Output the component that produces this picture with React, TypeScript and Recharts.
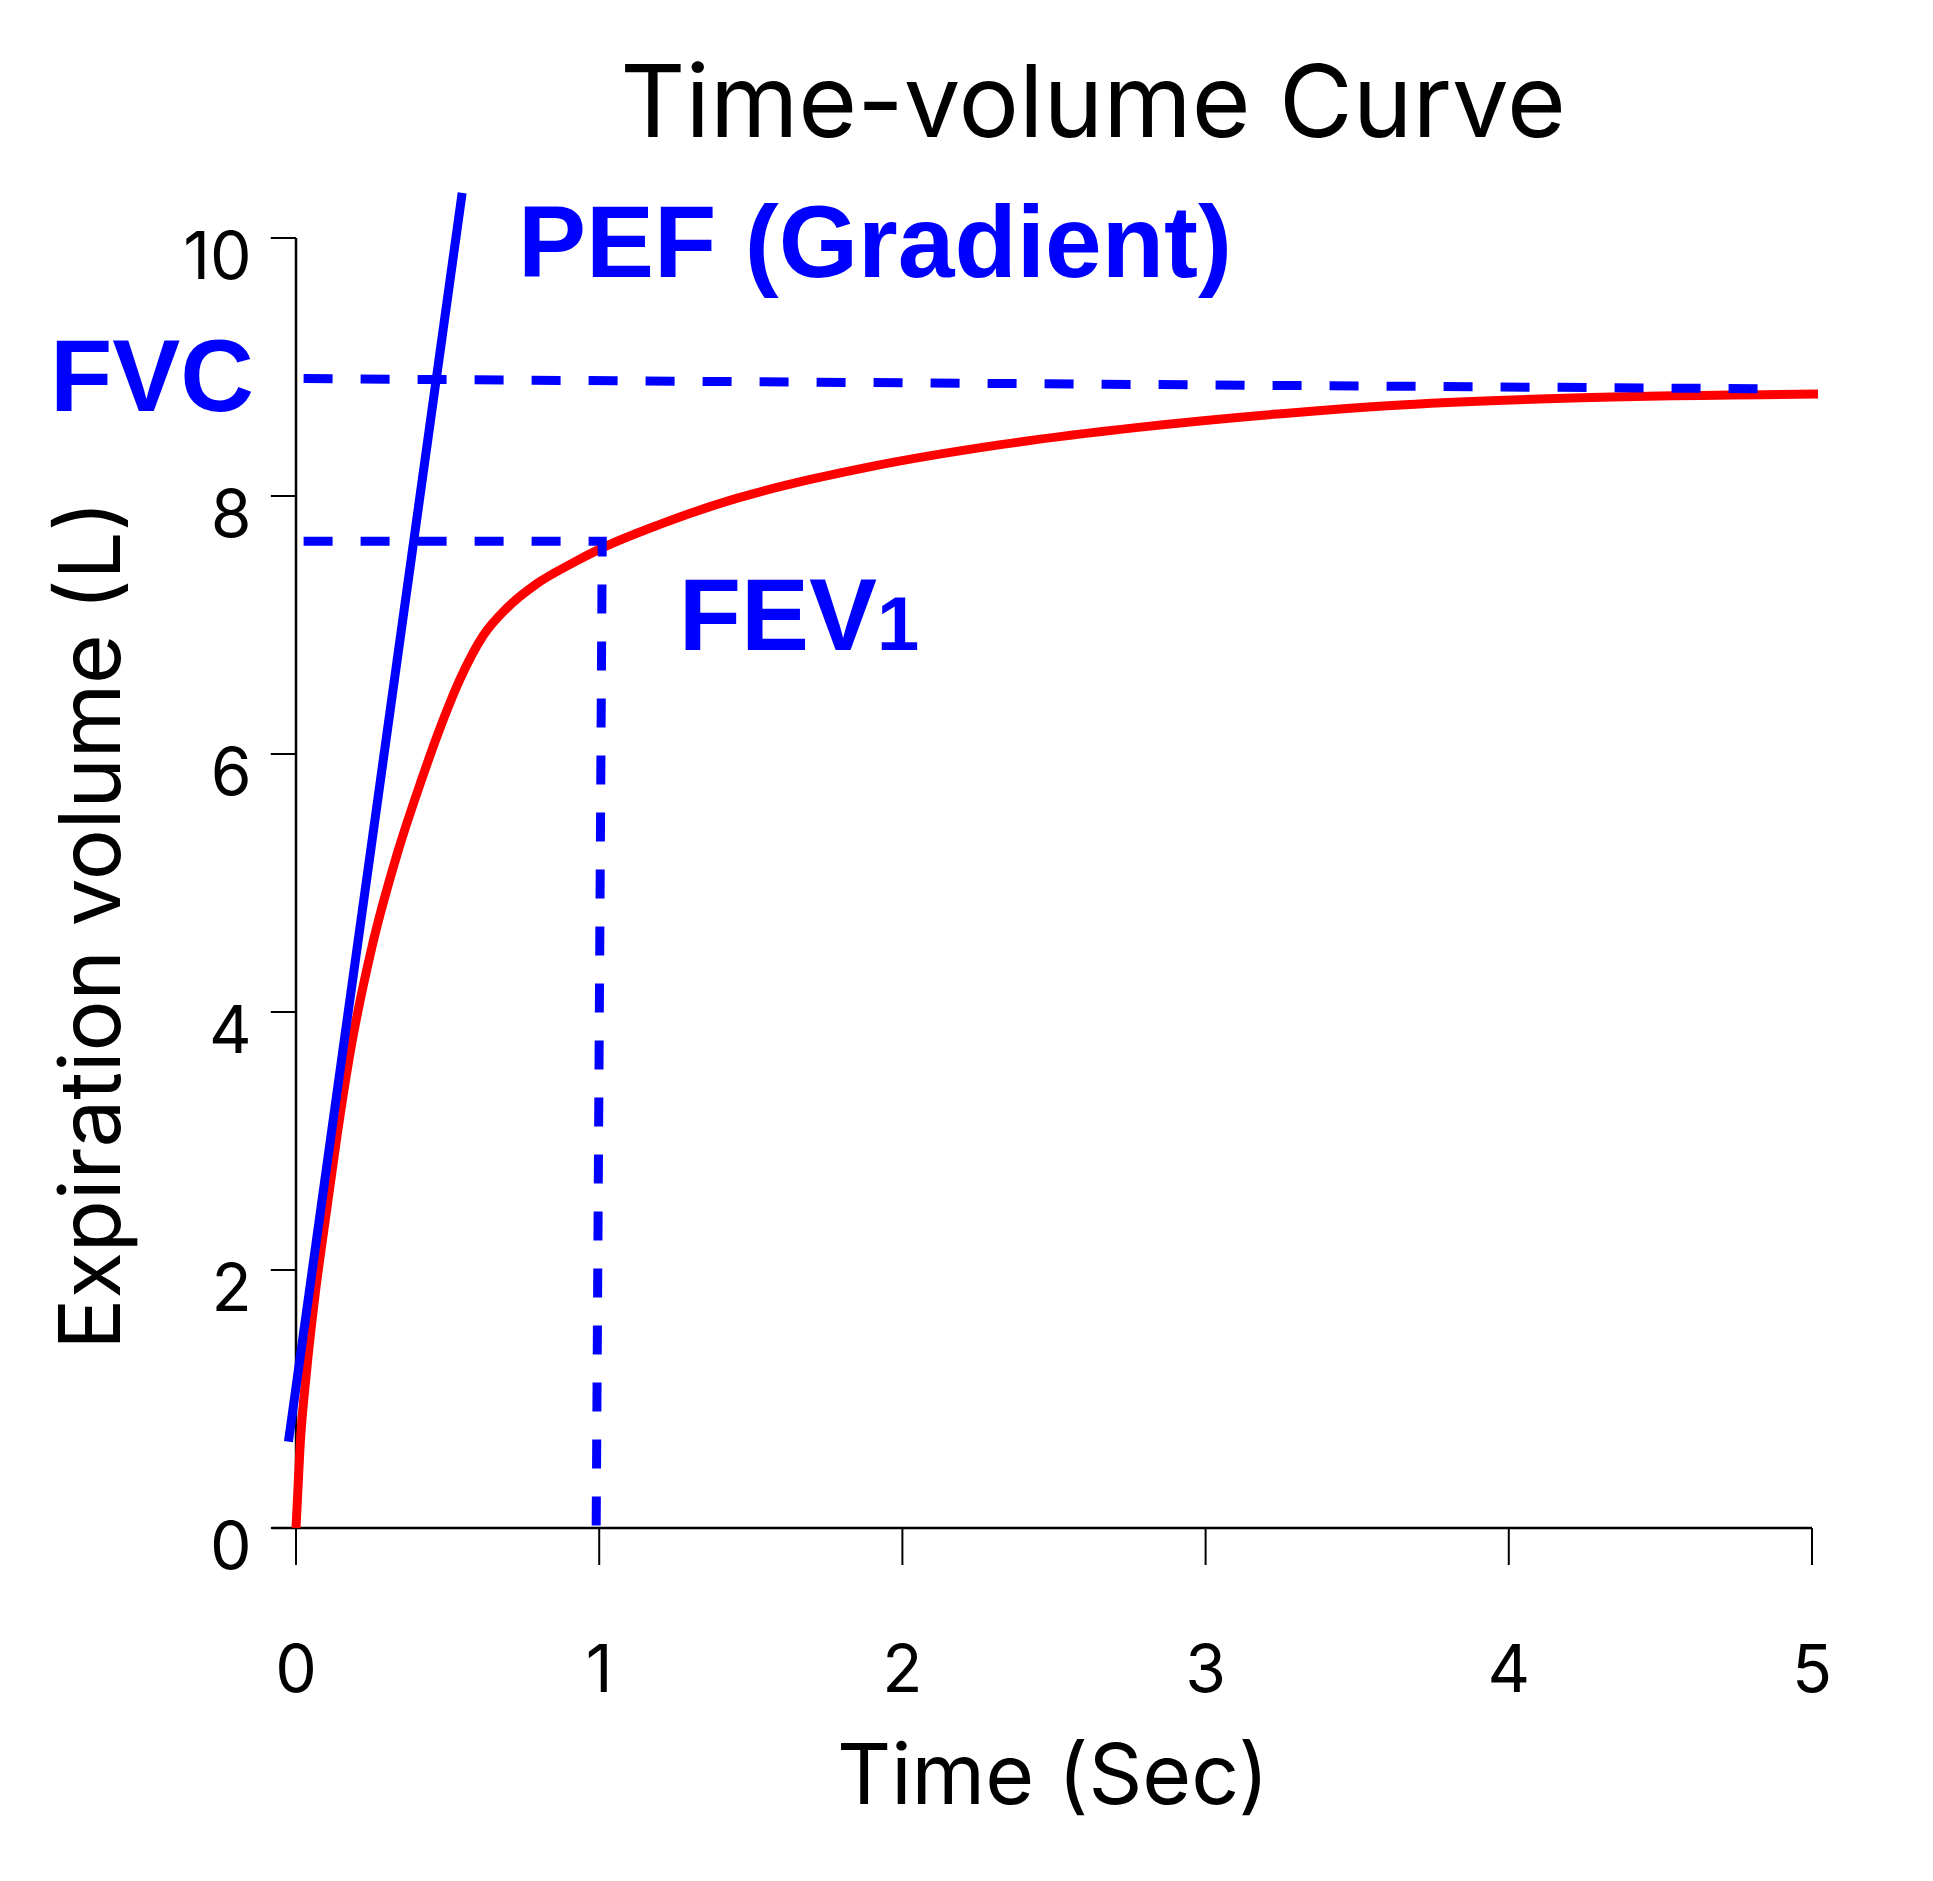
import React from "react";
import { LineChart, Line, XAxis, YAxis, ReferenceLine, ReferenceDot } from "recharts";

// time (s) vs expired volume (L)
const curveTime = [0, 0.013, 0.035, 0.063, 0.096, 0.134, 0.178, 0.25, 0.333, 0.414, 0.475, 0.541, 0.618, 0.695, 0.794, 0.904, 1.003, 1.2, 1.45, 1.7, 1.9, 2.33, 2.77, 3.31, 3.6, 4.21, 5.02];
const curveVolume = [0, 0.62, 1.22, 1.81, 2.38, 3.02, 3.68, 4.5, 5.22, 5.8, 6.2, 6.58, 6.92, 7.13, 7.32, 7.47, 7.59, 7.78, 7.98, 8.13, 8.23, 8.4, 8.53, 8.65, 8.7, 8.76, 8.79];

// PEF gradient line
const pefTime = [-0.025, 0.548];
const pefVolume = [0.67, 10.35];

// FVC level (dashed)
const fvcTime = [0.025, 4.9];
const fvcVolume = [8.91, 8.83];

// FEV1 guide (dashed): across then down to t=1
const fev1Time = [0.025, 1.01, 0.99];
const fev1Volume = [7.65, 7.65, 0];

const xTicks = [0, 1, 2, 3, 4, 5];
const yTicks = [0, 2, 4, 6, 8, 10];

const zip = (ts: number[], vs: number[]) => ts.map((t, i) => ({ t, v: vs[i] }));

const curveData = zip(curveTime, curveVolume);
const pefData = zip(pefTime, pefVolume);
const fvcData = zip(fvcTime, fvcVolume);
const fev1Data = zip(fev1Time, fev1Volume);

const BLUE = "#0000ff";
const RED = "#ff0000";
const FONT = "Inter, 'Liberation Sans', sans-serif";
const BOLD_FONT = "'Liberation Sans', Arial, sans-serif";

const XTick = (props: any) => {
  const { x, y, payload } = props;
  return (
    <text x={x} y={y + 127} textAnchor="middle" fontFamily={FONT} fontSize={66} fill="#000">
      {payload.value}
    </text>
  );
};

const YTick = (props: any) => {
  const { x, y, payload } = props;
  return (
    <text x={x} y={y + 41} textAnchor="end" fontFamily={FONT} fontSize={66} fill="#000">
      {payload.value}
    </text>
  );
};

const labelShape = (text: React.ReactNode, anchor: "start" | "end") => (p: any) => (
  <text x={p.cx} y={p.cy} textAnchor={anchor} fontFamily={BOLD_FONT} fontWeight="bold" fontSize={102} fill={BLUE}>
    {text}
  </text>
);

export default function App() {
  return (
    <div style={{ position: "relative", width: 1933, height: 1881, background: "#fff" }}>
      <style>{`body{margin:0}`}</style>
      <LineChart width={1933} height={1881} margin={{ top: 160.6, right: 90.7, left: 0, bottom: 0 }}>
        <XAxis
          type="number"
          dataKey="t"
          domain={[-0.1, 5.1]}
          ticks={xTicks}
          allowDataOverflow
          axisLine={false}
          tickLine={{ stroke: "#000", strokeWidth: 2 }}
          tickSize={37}
          tickMargin={0}
          tick={<XTick />}
          height={353}
        />
        <YAxis
          type="number"
          dataKey="v"
          domain={[0, 10.6]}
          ticks={yTicks}
          allowDataOverflow
          axisLine={false}
          tickLine={false}
          tickSize={0}
          tickMargin={14}
          tick={<YTick />}
          width={265.7}
        />

        {/* axis lines and y tick marks */}
        <ReferenceLine segment={[{ x: -0.08, y: 0 }, { x: 5, y: 0 }]} stroke="#000" strokeWidth={2.5} />
        <ReferenceLine segment={[{ x: 0, y: 0 }, { x: 0, y: 10 }]} stroke="#000" strokeWidth={2.5} />
        {yTicks.map((v) => (
          <ReferenceLine key={v} segment={[{ x: -0.083, y: v }, { x: 0, y: v }]} stroke="#000" strokeWidth={2} />
        ))}

        <Line data={curveData} dataKey="v" type="monotone" stroke={RED} strokeWidth={9} dot={false} activeDot={false} isAnimationActive={false} />
        <Line data={pefData} dataKey="v" type="linear" stroke={BLUE} strokeWidth={9} dot={false} activeDot={false} isAnimationActive={false} />
        <Line data={fvcData} dataKey="v" type="linear" stroke={BLUE} strokeWidth={9} strokeDasharray="29 28" dot={false} activeDot={false} isAnimationActive={false} />
        <Line data={fev1Data} dataKey="v" type="linear" stroke={BLUE} strokeWidth={9} strokeDasharray="29 28" dot={false} activeDot={false} isAnimationActive={false} />

        <ReferenceDot x={-0.139} y={8.66} r={0} ifOverflow="visible" shape={labelShape("FVC", "end")} />
        <ReferenceDot x={0.732} y={9.7} r={0} ifOverflow="visible" shape={labelShape("PEF (Gradient)", "start")} />
        <ReferenceDot
          x={1.262}
          y={6.81}
          r={0}
          ifOverflow="visible"
          shape={labelShape(
            <>
              <tspan>FEV</tspan>
              <tspan fontSize={76}>1</tspan>
            </>,
            "start"
          )}
        />
      </LineChart>

      <svg width={1933} height={1881} style={{ position: "absolute", left: 0, top: 0, pointerEvents: "none" }}>
        <text x={1093} y={137} textAnchor="middle" fontFamily={FONT} fontSize={101} fill="#000">
          Time-volume Curve
        </text>
        <text x={1053} y={1804} textAnchor="middle" fontFamily={FONT} fontSize={84} fill="#000">
          Time (Sec)
        </text>
        <text x={120} y={925} textAnchor="middle" fontFamily={FONT} fontSize={85} fill="#000" transform="rotate(-90 120 925)">
          Expiration volume (L)
        </text>
      </svg>
    </div>
  );
}
